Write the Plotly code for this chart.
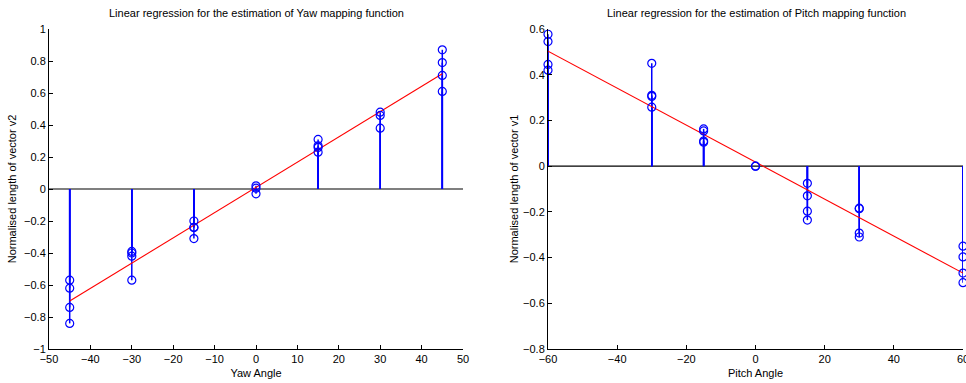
import plotly.graph_objects as go

# ---- Data ----
yaw_angles = [-45, -30, -15, 0, 15, 30, 45]
yaw_values = [
    [-0.57, -0.62, -0.74, -0.84],
    [-0.39, -0.40, -0.42, -0.57],
    [-0.20, -0.24, -0.24, -0.31],
    [0.02, 0.005, -0.03],
    [0.31, 0.27, 0.26, 0.23],
    [0.48, 0.46, 0.38],
    [0.87, 0.79, 0.71, 0.61],
]
yaw_fit_x = [-45, 45]
yaw_fit_y = [-0.70, 0.72]

pitch_angles = [-60, -30, -15, 0, 15, 30, 60]
pitch_values = [
    [0.577, 0.545, 0.445, 0.42],
    [0.45, 0.31, 0.305, 0.258],
    [0.163, 0.154, 0.11, 0.105],
    [0.0, 0.0],
    [-0.075, -0.13, -0.197, -0.236],
    [-0.184, -0.186, -0.293, -0.31],
    [-0.35, -0.397, -0.468, -0.51],
]
pitch_fit_x = [-60, 60]
pitch_fit_y = [0.503, -0.468]

titles = ["Linear regression for the estimation of Yaw mapping function",
          "Linear regression for the estimation of Pitch mapping function"]
xlabels = ["Yaw Angle", "Pitch Angle"]
ylabels = ["Normalised length of vector v2", "Normalised length of vector v1"]

BLUE = "rgb(0,0,255)"
RED = "rgb(255,0,0)"
FONT = "Liberation Sans, Arial, sans-serif"

fig = go.Figure()


def add_panel(angles, values, fx, fy, xa, ya):
    sx, sy, px, py = [], [], [], []
    for a, vals in zip(angles, values):
        for v in vals:
            sx += [a, a, None]
            sy += [0, v, None]
            px.append(a)
            py.append(v)
    fig.add_trace(go.Scatter(x=sx, y=sy, mode="lines", line=dict(color=BLUE, width=1.5),
                             xaxis=xa, yaxis=ya, showlegend=False, hoverinfo="skip", cliponaxis=False))
    fig.add_trace(go.Scatter(x=fx, y=fy, mode="lines", line=dict(color=RED, width=1.1),
                             xaxis=xa, yaxis=ya, showlegend=False, cliponaxis=False))
    fig.add_trace(go.Scatter(x=px, y=py, mode="markers",
                             marker=dict(symbol="circle-open", size=8, color=BLUE, line=dict(width=1.2)),
                             xaxis=xa, yaxis=ya, showlegend=False, cliponaxis=False))


add_panel(yaw_angles, yaw_values, yaw_fit_x, yaw_fit_y, "x", "y")
add_panel(pitch_angles, pitch_values, pitch_fit_x, pitch_fit_y, "x2", "y2")

W, H = 966, 383


def px_x(p):
    return min(1.0, p / W)


def px_y(p):
    return 1 - p / H


axis_common = dict(showline=True, linecolor="black", linewidth=1, ticks="inside", ticklen=4,
                   tickcolor="black", showgrid=False, zeroline=False, mirror=False, automargin=False,
                   ticklabeloverflow="allow",
                   tickfont=dict(family=FONT, size=11, color="black"))

fig.update_layout(
    width=W, height=H, margin=dict(l=0, r=0, t=0, b=0),
    plot_bgcolor="white", paper_bgcolor="white",
    font=dict(family=FONT, size=11, color="black"),
    xaxis=dict(domain=[px_x(49), px_x(463)], range=[-50, 50], tickvals=list(range(-50, 51, 10)),
               anchor="y", title=dict(text=xlabels[0], standoff=5, font=dict(size=11)), **axis_common),
    yaxis=dict(domain=[px_y(349), px_y(29)], range=[-1, 1],
               tickvals=[-1, -0.8, -0.6, -0.4, -0.2, 0, 0.2, 0.4, 0.6, 0.8, 1],
               anchor="x", title=dict(text=ylabels[0], standoff=5, font=dict(size=11)), **axis_common),
    xaxis2=dict(domain=[px_x(548), px_x(963)], range=[-60, 60], tickvals=list(range(-60, 61, 20)),
                anchor="y2", title=dict(text=xlabels[1], standoff=5, font=dict(size=11)), **axis_common),
    yaxis2=dict(domain=[px_y(349), px_y(29)], range=[-0.8, 0.6],
                tickvals=[-0.8, -0.6, -0.4, -0.2, 0, 0.2, 0.4, 0.6],
                anchor="x2", title=dict(text=ylabels[1], standoff=2, font=dict(size=11)), **axis_common),
    shapes=[
        dict(type="line", xref="x domain", yref="y", x0=0, x1=1, y0=0, y1=0,
             line=dict(color="black", width=1.2), layer="below"),
        dict(type="line", xref="x2 domain", yref="y2", x0=0, x1=1, y0=0, y1=0,
             line=dict(color="black", width=1.2), layer="below"),
    ],
    annotations=[
        dict(text=titles[0], xref="paper", yref="paper", x=px_x(256), y=px_y(13),
             xanchor="center", yanchor="middle", showarrow=False, font=dict(size=11)),
        dict(text=titles[1], xref="paper", yref="paper", x=px_x(756), y=px_y(13),
             xanchor="center", yanchor="middle", showarrow=False, font=dict(size=11)),
    ],
)

fig.write_html("out.html", config={"displayModeBar": False},
               post_script="document.body.style.margin='0';document.body.style.overflow='hidden';")
